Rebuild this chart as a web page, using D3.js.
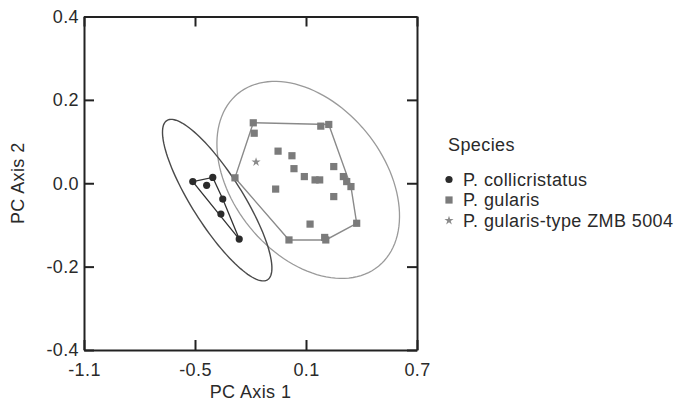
<!DOCTYPE html>
<html>
<head>
<meta charset="utf-8">
<script src="https://cdn.jsdelivr.net/npm/d3@7"></script>
<style>
  body { margin: 0; background: #fff; }
  text { font-family: "Liberation Sans", Arial, sans-serif; fill: #2a2a2a; letter-spacing: 0.4px; }
</style>
</head>
<body>
<div id="chart"></div>
<script>
// P. collicristatus scores [PC1, PC2]
const collicristatus = [
    [-0.512, 0.004], [-0.404, 0.014], [-0.437, -0.005],
    [-0.350, -0.038], [-0.360, -0.074], [-0.261, -0.134]
];

// P. gularis scores [PC1, PC2]
const gularis = [
    [-0.185, 0.145], [-0.180, 0.120], [0.180, 0.137], [0.223, 0.141],
    [-0.051, 0.077], [0.024, 0.066], [0.035, 0.035], [0.091, 0.016],
    [0.149, 0.008], [0.174, 0.008], [0.250, 0.040], [0.302, 0.016],
    [0.320, 0.004], [0.343, -0.008], [-0.064, -0.014], [0.250, -0.032],
    [-0.284, 0.013], [0.374, -0.096], [0.122, -0.098], [0.008, -0.136],
    [0.201, -0.130], [0.207, -0.136]
];

// type specimen
const gularisType = [[-0.170, 0.051]];

// ellipses: centre, then the two semi-axis vectors, in PC units
const ellipseCollicristatus = { c: [-0.380, -0.0405], u: [0.272, -0.191], v: [-0.116, -0.0326] };
const ellipseGularis = { c: [0.112, 0.008], u: [0.380, -0.207], v: [-0.315, -0.114] };

const xTicks = [-1.1, -0.5, 0.1, 0.7];
const yTicks = [-0.4, -0.2, 0.0, 0.2, 0.4];
const legendLabels = ['P. collicristatus', 'P. gularis', 'P. gularis-type ZMB 5004'];

const margin = { top: 16.5, left: 84 };
const width = 333;
const height = 333.5;
const fs = 18;

const svg = d3.select('#chart')
    .append('svg')
    .attr('width', 676)
    .attr('height', 403);

const g = svg.append('g')
    .attr('transform', `translate(${margin.left},${margin.top})`);

const x = d3.scaleLinear().domain([-1.1, 0.7]).range([0, width]);
const y = d3.scaleLinear().domain([-0.4, 0.4]).range([height, 0]);

// ellipse outline from its parameters
function ellipsePoints(e) {
    const pts = [];
    for (let i = 0; i < 120; i++) {
        const t = i / 120 * 2 * Math.PI;
        pts.push([
            x(e.c[0] + e.u[0] * Math.cos(t) + e.v[0] * Math.sin(t)),
            y(e.c[1] + e.u[1] * Math.cos(t) + e.v[1] * Math.sin(t))
        ]);
    }
    return pts;
}

const closed = d3.line().curve(d3.curveLinearClosed);

g.append('path')
    .attr('d', closed(ellipsePoints(ellipseGularis)))
    .attr('fill', 'none')
    .attr('stroke', '#9a9a9a')
    .attr('stroke-width', 1.3);

g.append('path')
    .attr('d', closed(ellipsePoints(ellipseCollicristatus)))
    .attr('fill', 'none')
    .attr('stroke', '#4a4a4a')
    .attr('stroke-width', 1.4);

// convex hulls
const hullG = d3.polygonHull(gularis.map(d => [x(d[0]), y(d[1])]));
g.append('path')
    .attr('d', closed(hullG))
    .attr('fill', 'none')
    .attr('stroke', '#8a8a8a')
    .attr('stroke-width', 1.4);

const hullC = d3.polygonHull(collicristatus.map(d => [x(d[0]), y(d[1])]));
g.append('path')
    .attr('d', closed(hullC))
    .attr('fill', 'none')
    .attr('stroke', '#333')
    .attr('stroke-width', 1.3);

// points
g.selectAll('.sq')
    .data(gularis)
    .enter().append('rect')
    .attr('class', 'sq')
    .attr('x', d => x(d[0]) - 3.6)
    .attr('y', d => y(d[1]) - 3.6)
    .attr('width', 7.2)
    .attr('height', 7.2)
    .attr('fill', '#7b7b7b');

g.selectAll('.dot')
    .data(collicristatus)
    .enter().append('circle')
    .attr('class', 'dot')
    .attr('cx', d => x(d[0]))
    .attr('cy', d => y(d[1]))
    .attr('r', 3.6)
    .attr('fill', '#2b2b2b');

const star = d3.symbol().type(d3.symbolStar).size(26);
g.selectAll('.star')
    .data(gularisType)
    .enter().append('path')
    .attr('class', 'star')
    .attr('transform', d => `translate(${x(d[0])},${y(d[1])})`)
    .attr('d', star)
    .attr('fill', '#8a8a8a');

// axes, ticks pointing inward
const fmt = d => d3.format('.1f')(d).replace('\u2212', '-');

const axB = g.append('g')
    .attr('transform', `translate(0,${height})`)
    .call(d3.axisBottom(x).tickValues(xTicks).tickSizeInner(-10).tickSizeOuter(0).tickPadding(13).tickFormat(fmt));
const axL = g.append('g')
    .call(d3.axisLeft(y).tickValues(yTicks).tickSizeInner(-10).tickSizeOuter(0).tickPadding(5).tickFormat(fmt));
const axT = g.append('g')
    .call(d3.axisTop(x).tickValues(xTicks).tickSizeInner(-10).tickSizeOuter(0).tickFormat(''));
const axR = g.append('g')
    .attr('transform', `translate(${width},0)`)
    .call(d3.axisRight(y).tickValues(yTicks).tickSizeInner(-10).tickSizeOuter(0).tickFormat(''));

[axB, axL, axT, axR].forEach(a => {
    a.select('.domain').attr('stroke', '#222').attr('stroke-width', 2);
    a.selectAll('.tick line').attr('stroke', '#222').attr('stroke-width', 2);
    a.selectAll('text')
        .attr('font-family', '"Liberation Sans", Arial, sans-serif')
        .attr('font-size', fs)
        .attr('fill', '#2a2a2a');
});

// axis titles
svg.append('text')
    .attr('x', margin.left + width / 2)
    .attr('y', 398)
    .attr('text-anchor', 'middle')
    .attr('font-size', fs)
    .text('PC Axis 1');

svg.append('text')
    .attr('transform', `translate(24,${margin.top + height / 2}) rotate(-90)`)
    .attr('text-anchor', 'middle')
    .attr('font-size', fs)
    .text('PC Axis 2');

// legend
const legend = svg.append('g').attr('transform', 'translate(449,0)');
legend.append('text')
    .attr('x', -1)
    .attr('y', 151)
    .attr('font-size', fs)
    .text('Species');

const rows = legend.selectAll('.row')
    .data(legendLabels)
    .enter().append('g')
    .attr('transform', (d, i) => `translate(0,${179.5 + i * 20.5})`);

rows.append('text')
    .attr('x', 14)
    .attr('y', 6)
    .attr('font-size', fs)
    .text(d => d);

rows.filter((d, i) => i === 0).append('circle')
    .attr('r', 3.6)
    .attr('fill', '#2b2b2b');
rows.filter((d, i) => i === 1).append('rect')
    .attr('x', -3.6).attr('y', -3.6)
    .attr('width', 7.2).attr('height', 7.2)
    .attr('fill', '#7b7b7b');
rows.filter((d, i) => i === 2).append('path')
    .attr('d', star)
    .attr('fill', '#8a8a8a');
</script>
</body>
</html>
